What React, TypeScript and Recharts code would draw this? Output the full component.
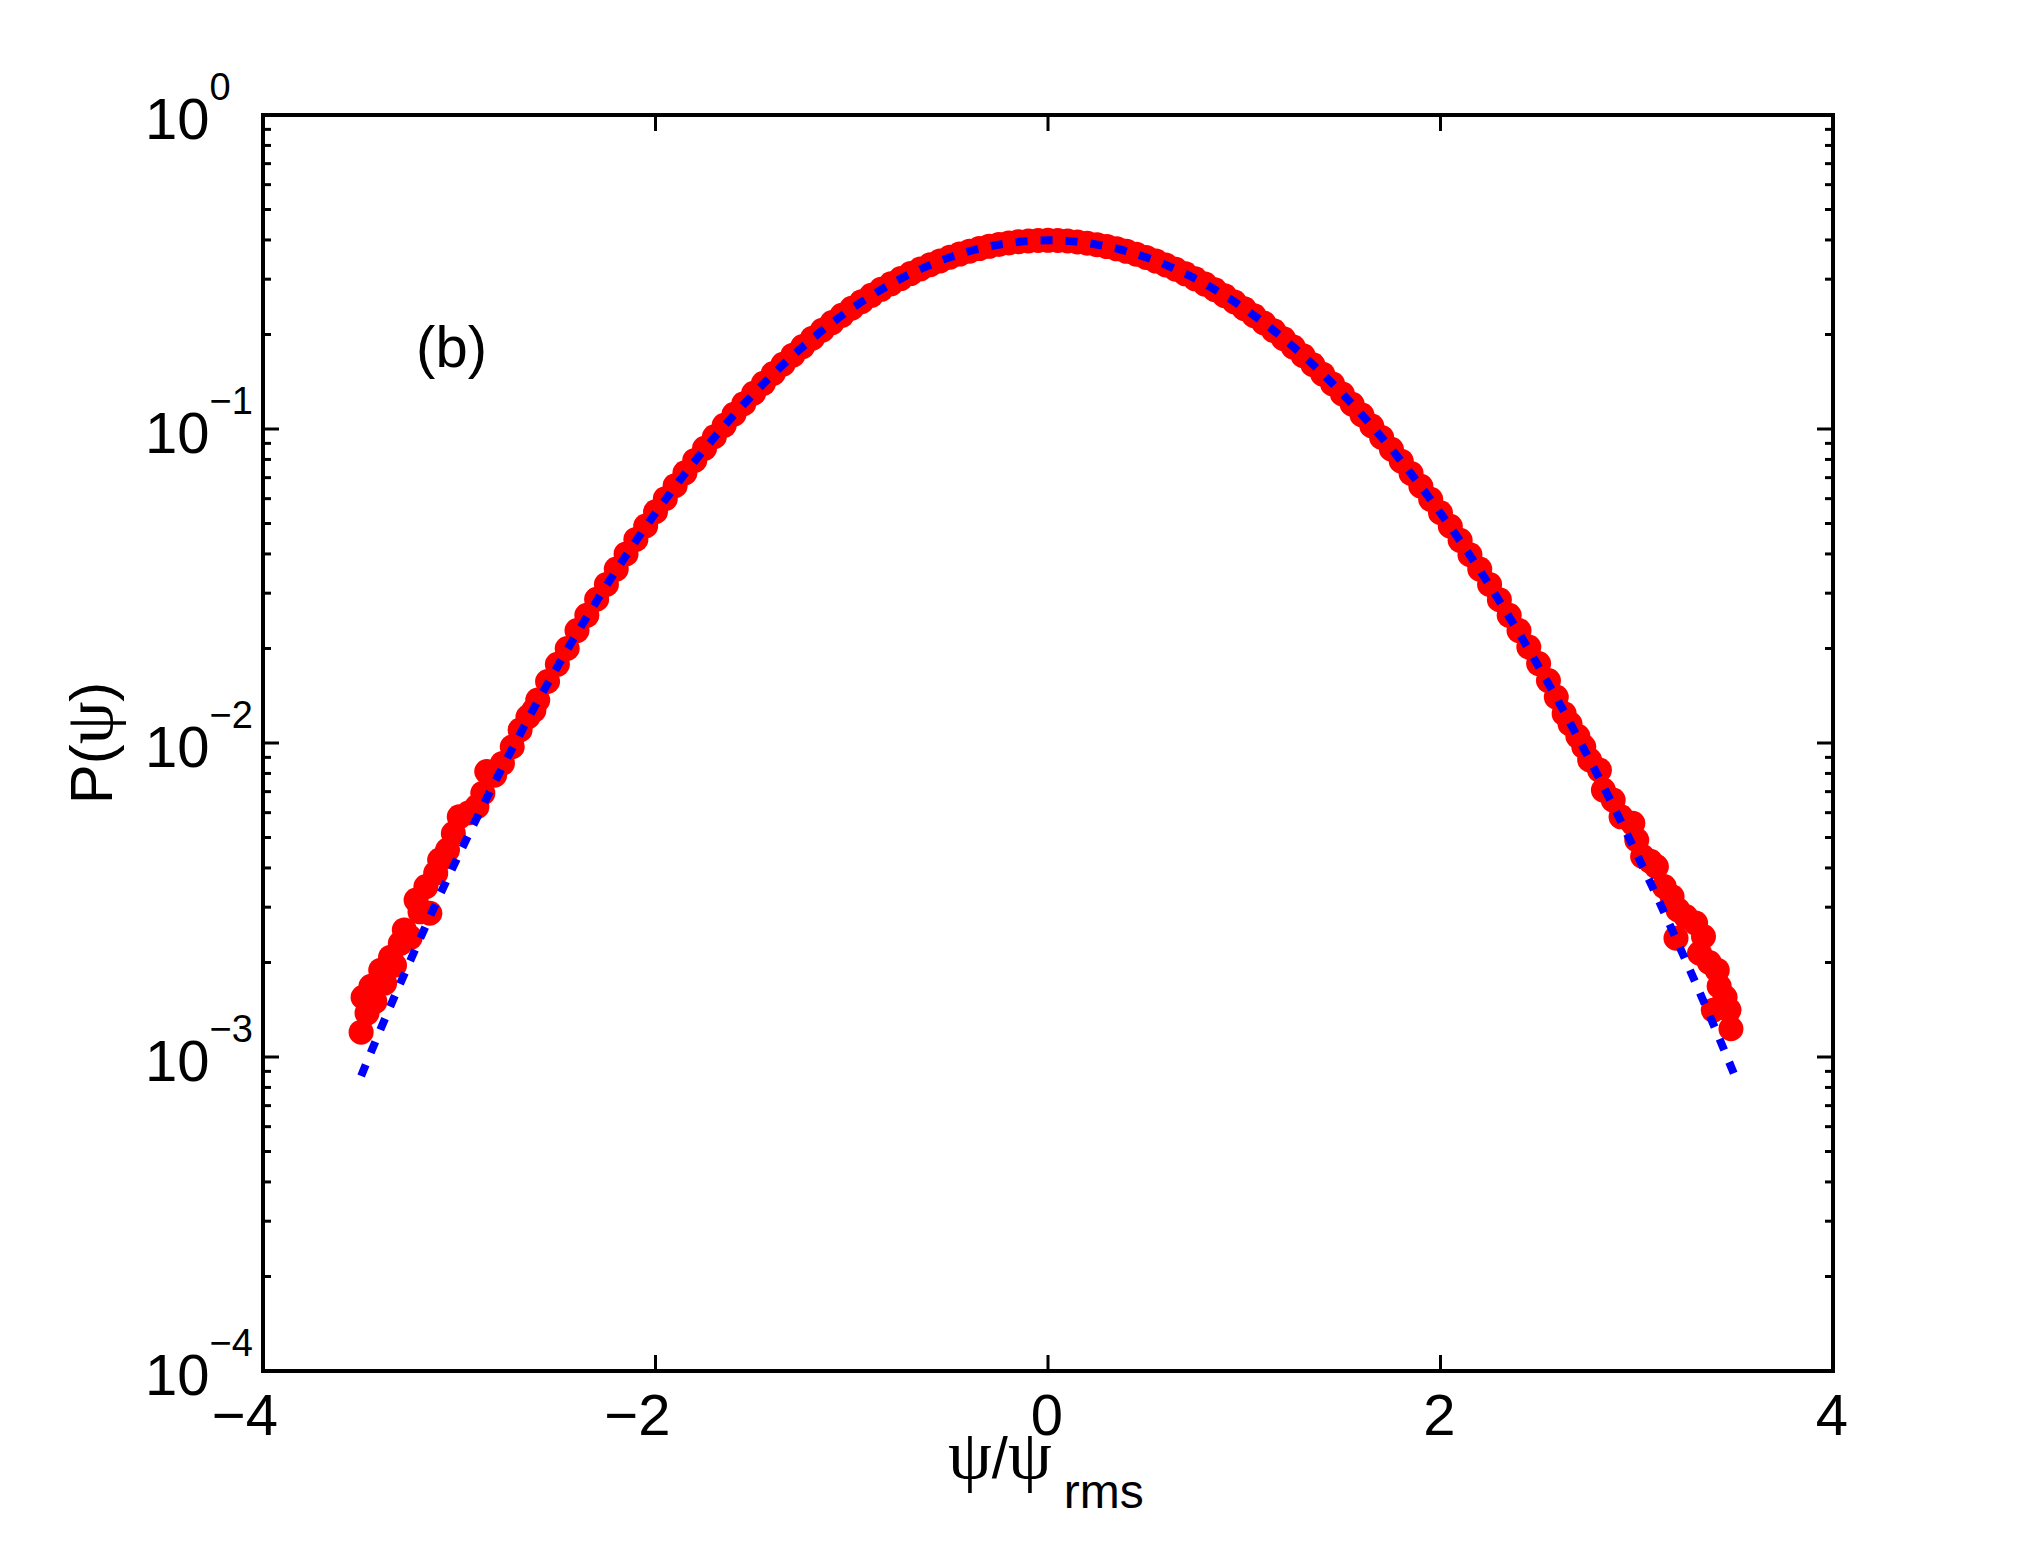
import React from 'react';
import { ComposedChart, XAxis, YAxis, Scatter, ReferenceArea, ReferenceDot } from 'recharts';

// ---------- data ----------
const redX: number[] = [
  -3.5, -3.49, -3.47, -3.45, -3.43, -3.4, -3.38, -3.35, -3.33, -3.3, -3.28, -3.25, -3.22, -3.2, -3.17, -3.15,
  -3.12, -3.1, -3.06, -3.03, -3.0, -2.95, -2.91, -2.88, -2.86, -2.82, -2.78, -2.73, -2.69, -2.65, -2.62, -2.6,
  -2.55, -2.5, -2.45, -2.4, -2.35, -2.3, -2.25, -2.2, -2.15, -2.1, -2.05, -2.0, -1.95, -1.9, -1.85, -1.8,
  -1.75, -1.7, -1.65, -1.6, -1.55, -1.5, -1.45, -1.4, -1.35, -1.3, -1.25, -1.2, -1.15, -1.1, -1.05, -1.0,
  -0.95, -0.9, -0.85, -0.8, -0.75, -0.7, -0.65, -0.6, -0.55, -0.5, -0.45, -0.4, -0.35, -0.3, -0.25, -0.2,
  -0.15, -0.1, -0.05, 0.0,
  0.05, 0.1, 0.15, 0.2, 0.25, 0.3, 0.35, 0.4, 0.45, 0.5, 0.55, 0.6, 0.65, 0.7, 0.75, 0.8,
  0.85, 0.9, 0.95, 1.0, 1.05, 1.1, 1.15, 1.2, 1.25, 1.3, 1.35, 1.4, 1.45, 1.5, 1.55, 1.6,
  1.65, 1.7, 1.75, 1.8, 1.85, 1.9, 1.95, 2.0, 2.05, 2.1, 2.15, 2.2, 2.25, 2.3, 2.35, 2.4,
  2.45, 2.5, 2.55, 2.59, 2.63, 2.66, 2.7, 2.73, 2.76, 2.81, 2.83, 2.88, 2.92, 2.98, 3.0, 3.03,
  3.07, 3.1, 3.14, 3.18, 3.21, 3.2, 3.25, 3.3, 3.32, 3.34, 3.37, 3.39, 3.41, 3.42, 3.45, 3.47, 3.48,
];
const redY: number[] = [
  0.0012, 0.00155, 0.00138, 0.00168, 0.0015, 0.00189, 0.00172, 0.00208, 0.00196, 0.0023, 0.00254, 0.0024, 0.00316, 0.0029, 0.00349, 0.00287,
  0.00385, 0.00424, 0.00456, 0.00515, 0.00582, 0.006, 0.00627, 0.00692, 0.00811, 0.0079, 0.00861, 0.00973, 0.011, 0.0121, 0.0127, 0.0137,
  0.0157, 0.0178, 0.02, 0.0228, 0.0255, 0.0287, 0.032, 0.0358, 0.04, 0.0445, 0.0491, 0.0545, 0.06, 0.066, 0.0725, 0.0794,
  0.0868, 0.0945, 0.1027, 0.1114, 0.1204, 0.13, 0.1398, 0.1502, 0.1608, 0.1718, 0.183, 0.1946, 0.2063, 0.2183, 0.2302, 0.2424,
  0.2544, 0.2665, 0.2784, 0.29, 0.3014, 0.3126, 0.3233, 0.3335, 0.3431, 0.3523, 0.3607, 0.3685, 0.3754, 0.3816, 0.3868, 0.3912,
  0.3947, 0.3972, 0.3986, 0.399,
  0.3985, 0.3969, 0.3943, 0.3908, 0.3864, 0.3811, 0.3749, 0.368, 0.3602, 0.3518, 0.3426, 0.3329, 0.3227, 0.312, 0.3008, 0.2894,
  0.2777, 0.2658, 0.2538, 0.2417, 0.2296, 0.2176, 0.2057, 0.194, 0.1824, 0.1712, 0.1602, 0.1495, 0.1392, 0.1293, 0.1199, 0.1108,
  0.1022, 0.094, 0.0862, 0.079, 0.0722, 0.0657, 0.0597, 0.0541, 0.049, 0.0442, 0.0398, 0.0358, 0.032, 0.0286, 0.0255, 0.0228,
  0.0202, 0.0179, 0.0158, 0.014, 0.0124, 0.0115, 0.0105, 0.00973, 0.00883, 0.0082, 0.00708, 0.00658, 0.00582, 0.00555, 0.00491, 0.00435,
  0.0042, 0.00404, 0.00349, 0.00324, 0.00294, 0.00239, 0.0028, 0.00267, 0.00214, 0.00242, 0.002, 0.00141, 0.00189, 0.00168, 0.00155, 0.00141, 0.00123,
];

const blueX: number[] = [
  -3.5, -3.4, -3.3, -3.2, -3.1, -3.0, -2.9, -2.8, -2.7, -2.6, -2.5, -2.4, -2.3, -2.2, -2.1, -2.0, -1.9, -1.8,
  -1.7, -1.6, -1.5, -1.4, -1.3, -1.2, -1.1, -1.0, -0.9, -0.8, -0.7, -0.6, -0.5, -0.4, -0.3, -0.2, -0.1, 0.0,
  0.1, 0.2, 0.3, 0.4, 0.5, 0.6, 0.7, 0.8, 0.9, 1.0, 1.1, 1.2, 1.3, 1.4, 1.5, 1.6, 1.7, 1.8,
  1.9, 2.0, 2.1, 2.2, 2.3, 2.4, 2.5, 2.6, 2.7, 2.8, 2.9, 3.0, 3.1, 3.2, 3.3, 3.4, 3.5,
];
const blueY: number[] = [
  0.00087, 0.00123, 0.00172, 0.00238, 0.00327, 0.00443, 0.00595, 0.00792, 0.0104, 0.0136, 0.0175, 0.0224, 0.0283, 0.0355, 0.044, 0.054, 0.0656, 0.079,
  0.094, 0.1109, 0.1295, 0.1497, 0.1714, 0.1942, 0.2179, 0.242, 0.2661, 0.2897, 0.3123, 0.3332, 0.3521, 0.3683, 0.3814, 0.391, 0.397, 0.3989,
  0.397, 0.391, 0.3814, 0.3683, 0.3521, 0.3332, 0.3123, 0.2897, 0.2661, 0.242, 0.2179, 0.1942, 0.1714, 0.1497, 0.1295, 0.1109, 0.094, 0.079,
  0.0656, 0.054, 0.044, 0.0355, 0.0283, 0.0224, 0.0175, 0.0136, 0.0104, 0.00792, 0.00595, 0.00443, 0.00327, 0.00238, 0.00172, 0.00123, 0.00087,
];

const xTicks: number[] = [-4, -2, 0, 2, 4];
const yDecades: number[] = [0.0001, 0.001, 0.01, 0.1, 1];
const yMinorMult: number[] = [2, 3, 4, 5, 6, 7, 8, 9];

const annotation = { x: -3.22, y: 0.158, text: '(b)' };

// ---------- layout ----------
const W = 2025;
const H = 1542;
const PLOT = { left: 263, top: 115, right: 1833, bottom: 1371 };
const Y_AXIS_W = 200;
const X_AXIS_H = 120;
const FONT = '"Liberation Sans", Arial, Helvetica, sans-serif';
const SERIF = '"Liberation Serif", "Times New Roman", serif';

const redData = redX.map((x, i) => ({ x, y: redY[i] }));
const blueData = blueX.map((x, i) => ({ x, y: blueY[i] }));
const yTicks: number[] = [];
yDecades.forEach((d, i) => {
  yTicks.push(d);
  if (i < yDecades.length - 1) yMinorMult.forEach((m) => yTicks.push(+(d * m).toPrecision(3)));
});

const fmtNum = (v: number) => (v < 0 ? '\u2212' + Math.abs(v) : String(v));

const XTick = (props: any) => {
  const { x, y, payload } = props;
  const top = y - (PLOT.bottom - PLOT.top);
  return (
    <g>
      <line x1={x} x2={x} y1={y} y2={y - 16} stroke="#000" strokeWidth={3} />
      <line x1={x} x2={x} y1={top} y2={top + 16} stroke="#000" strokeWidth={3} />
      <text x={x + 15} y={y + 64} textAnchor="end" fontSize={58} fontFamily={FONT} fill="#000">
        {fmtNum(payload.value)}
      </text>
    </g>
  );
};

const YTick = (props: any) => {
  const { x, y, payload } = props;
  const v: number = payload.value;
  const e = Math.log10(v);
  const major = Math.abs(e - Math.round(e)) < 1e-6;
  const len = major ? 16 : 8;
  const right = x + (PLOT.right - PLOT.left);
  const exp = Math.round(e);
  return (
    <g>
      <line x1={x} x2={x + len} y1={y} y2={y} stroke="#000" strokeWidth={3} />
      <line x1={right} x2={right - len} y1={y} y2={y} stroke="#000" strokeWidth={3} />
      {major && (
        <text x={x - 118} y={y + 24} fontSize={58} fontFamily={FONT} fill="#000">
          <tspan>10</tspan>
          <tspan dy={-39} fontSize={38}>{exp === 0 ? '0' : '\u2212' + Math.abs(exp)}</tspan>
        </text>
      )}
    </g>
  );
};

const RedDot = (props: any) => {
  const { cx, cy } = props;
  if (cx == null || cy == null) return <g />;
  return <circle cx={cx} cy={cy} r={12.5} fill="#ff0000" />;
};

const NoDot = () => <g />;

const XLabel = (props: any) => {
  const vb = props.viewBox || {};
  const cx = vb.x + vb.width / 2;
  const by = PLOT.bottom + 107;
  return (
    <text x={cx - 100} y={by} fontSize={58} fontFamily={FONT} fill="#000">
      <tspan fontFamily={SERIF} fontSize={70}>ψ</tspan>
      <tspan>/</tspan>
      <tspan fontFamily={SERIF} fontSize={70}>ψ</tspan>
      <tspan dx={12} dy={30} fontSize={48}>rms</tspan>
    </text>
  );
};

const YLabel = (props: any) => {
  const vb = props.viewBox || {};
  const cy = vb.y + vb.height / 2;
  const bx = PLOT.left - 151;
  return (
    <text x={bx} y={cy} transform={`rotate(-90, ${bx}, ${cy})`} textAnchor="middle" fontSize={60} fontFamily={FONT} fill="#000">
      <tspan>P(</tspan>
      <tspan fontFamily={SERIF} fontSize={68}>ψ</tspan>
      <tspan>)</tspan>
    </text>
  );
};

const AnnotationLabel = (props: any) => {
  const vb = props.viewBox || {};
  return (
    <text x={vb.x} y={vb.y} fontSize={58} fontFamily={FONT} fill="#000">
      {annotation.text}
    </text>
  );
};

export default function App() {
  return (
    <div style={{ position: 'absolute', left: 0, top: 0, width: W, height: H, background: '#fff' }}>
      <ComposedChart
        width={W}
        height={H}
        margin={{
          top: PLOT.top,
          right: W - PLOT.right,
          bottom: H - PLOT.bottom - X_AXIS_H,
          left: PLOT.left - Y_AXIS_W,
        }}
      >
        <XAxis
          dataKey="x"
          type="number"
          domain={[-4, 4]}
          ticks={xTicks}
          interval={0}
          allowDataOverflow
          axisLine={false}
          tickLine={false}
          tickSize={0}
          tickMargin={0}
          height={X_AXIS_H}
          tick={<XTick />}
          label={<XLabel />}
        />
        <YAxis
          dataKey="y"
          type="number"
          scale="log"
          domain={[0.0001, 1]}
          ticks={yTicks}
          interval={0}
          allowDataOverflow
          axisLine={false}
          tickLine={false}
          tickSize={0}
          tickMargin={0}
          width={Y_AXIS_W}
          tick={<YTick />}
          label={<YLabel />}
        />
        <ReferenceArea x1={-4} x2={4} y1={0.0001} y2={1} fill="none" stroke="#000" strokeWidth={4} ifOverflow="visible" />
        <Scatter data={redData} dataKey="y" shape={<RedDot />} isAnimationActive={false} />
        <Scatter
          data={blueData}
          dataKey="y"
          shape={<NoDot />}
          line={{ stroke: '#0000ff', strokeWidth: 8, strokeDasharray: '12 13', fill: 'none' }}
          lineJointType="monotoneX"
          isAnimationActive={false}
        />
        <ReferenceDot x={annotation.x} y={annotation.y} r={0} fill="none" stroke="none" label={<AnnotationLabel />} />
      </ComposedChart>
    </div>
  );
}
